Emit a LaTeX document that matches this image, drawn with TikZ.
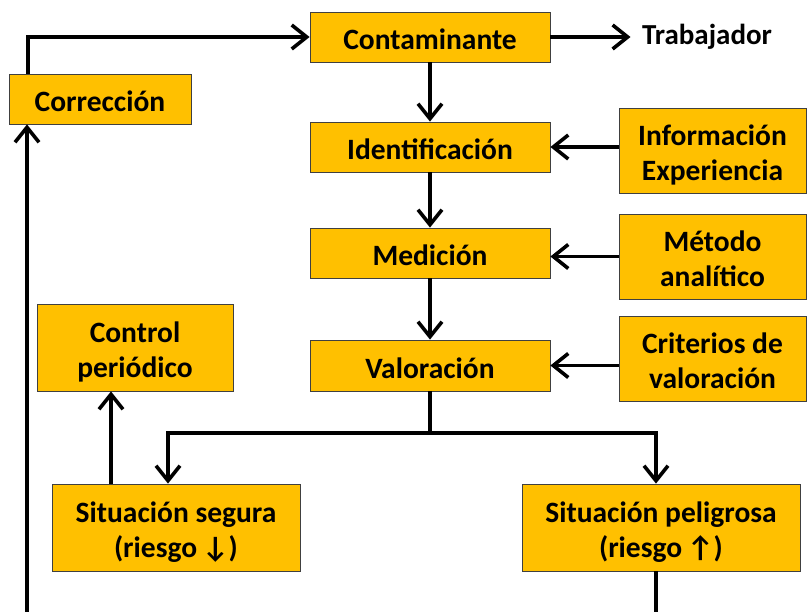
\documentclass[tikz,border=0pt]{standalone}
\usepackage{fontspec}
\setmainfont{Carlito}
\usetikzlibrary{arrows.meta}
\definecolor{gold}{HTML}{FFC000}
\definecolor{edge}{HTML}{404040}
\newcommand\mytop{\rule{0pt}{33pt}}
\newcommand\mybot{\rule[-7pt]{0pt}{7pt}}
\tikzset{
  box/.style={draw=edge, line width=0.8pt, fill=gold, inner sep=0pt, align=center,
    font=\fontsize{29.5}{35}\selectfont\bfseries},
  conn/.style={line width=3.6pt, draw=black},
  tip/.style={-{Straight Barb[length=15pt,width=24pt]}},
}
\begin{document}
\begin{tikzpicture}[x=1pt,y=-1pt]
\useasboundingbox (0,0) rectangle (807,612);
% boxes
\node[box, minimum width=240pt, minimum height=50pt] (cont) at (430,37) {\mytop Contaminante\mybot};
\node[box, minimum width=182pt, minimum height=50pt] (corr) at (100,99) {\mytop Corrección\mybot};
\node[box, minimum width=240pt, minimum height=50pt] (ident) at (430,147) {\mytop Identificación\mybot};
\node[box, minimum width=187pt, minimum height=85pt] (info) at (712.5,150.5) {\mytop Información\\Experiencia\mybot};
\node[box, minimum width=240pt, minimum height=50pt] (med) at (430,253) {\mytop Medición\mybot};
\node[box, minimum width=187pt, minimum height=85pt] (metodo) at (712.5,256.5) {\mytop Método\\analítico\mybot};
\node[box, minimum width=240pt, minimum height=51pt] (val) at (430,365.5) {\mytop Valoración\mybot};
\node[box, minimum width=187pt, minimum height=85pt] (crit) at (712.5,358.5) {\mytop Criterios de\\valoración\mybot};
\node[box, minimum width=196pt, minimum height=87pt] (ctrl) at (135,347.5) {\mytop Control\\periódico\mybot};
\node[box, minimum width=248pt, minimum height=87pt] (seg) at (176,527.5) {\mytop Situación segura\\(riesgo\,↓)\mybot};
\node[box, minimum width=278pt, minimum height=87pt] (pel) at (661,527.5) {\mytop Situación peligrosa\\(riesgo\,↑)\mybot};
\node[font=\fontsize{29}{33}\selectfont\bfseries] (trab) at (707,37) {Trabajador};
% helper coordinates
\coordinate (split) at (430,433);
\coordinate (botL) at (27,615);
\coordinate (botR) at (656,615);
% connectors
\draw[conn, tip] ([xshift=-72pt]corr.north) |- (cont.west);
\draw[conn, tip] (cont.east) -- ([xshift=-8pt]trab.west);
\draw[conn, tip] (cont.south) -- (ident.north);
\draw[conn, tip] (ident.south) -- (med.north);
\draw[conn, tip] (med.south) -- (val.north);
\draw[conn, tip] (info.west |- ident.east) -- (ident.east);
\draw[conn, tip] (metodo.west) -- (metodo.west -| med.east);
\draw[conn, tip] (val.east -| crit.west) -- (val.east);
\draw[conn] (val.south) -- (split);
\draw[conn, tip] (split) -| ([xshift=-8pt]seg.north);
\draw[conn, tip] (split) -| ([xshift=-5pt]pel.north);
\draw[conn, tip] ([xshift=-65pt]seg.north) -- ([xshift=-24pt]ctrl.south);
\draw[conn, tip] (botL) -- ([xshift=-73pt]corr.south);
\draw[conn] ([xshift=-5pt]pel.south) -- (botR);
\end{tikzpicture}
\end{document}
